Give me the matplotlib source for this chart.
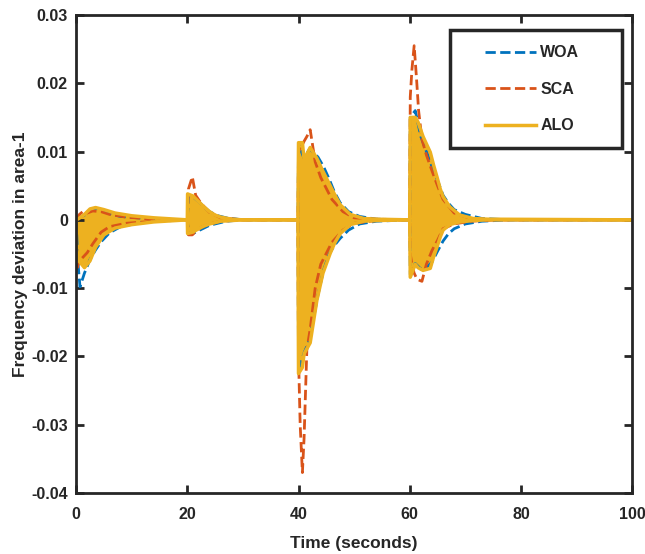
import matplotlib
matplotlib.use("Agg")
import matplotlib.pyplot as plt
from matplotlib.legend_handler import HandlerLine2D

plt.rcParams['font.family'] = ['Liberation Sans', 'DejaVu Sans']
plt.rcParams['font.weight'] = 'bold'

# envelope of each response (upper / lower edge)
woa_t = [0, 0.3, 0.7, 1.5, 2.5, 3.5, 4.5, 6, 8, 11, 15, 20,
         20.2, 21, 22, 23, 24, 25.5, 27, 30,
         39.9, 40.0, 41, 42, 43.5, 44.5, 45.5, 46.5, 47.5, 49, 51, 54, 60,
         60.1, 61, 62, 63, 64, 65, 66, 67, 68, 70, 73, 78, 100]
woa_hi = [0, 0.0002, 0.0004, 0.0007, 0.0014, 0.0017, 0.0014, 0.0009, 0.0005, 0.0003, 0.0001, 0,
          0.0036, 0.0034, 0.0027, 0.0019, 0.0012, 0.0006, 0.0003, 0,
          0, 0.0110, 0.0090, 0.0104, 0.0092, 0.0078, 0.0060, 0.0040, 0.0025, 0.0012, 0.0005, 0.0001, 0,
          0.0150, 0.0160, 0.0122, 0.0100, 0.0078, 0.0058, 0.0036, 0.0024, 0.0015, 0.0008, 0.0002, 0, 0]
woa_lo = [0, -0.0060, -0.0098, -0.0078, -0.0058, -0.0044, -0.0032, -0.0019, -0.0010, -0.0005, -0.0002, 0,
          -0.0021, -0.0020, -0.0016, -0.0012, -0.0008, -0.0005, -0.0002, 0,
          0, -0.0220, -0.0195, -0.0175, -0.0110, -0.0074, -0.0050, -0.0037, -0.0027, -0.0015, -0.0006, -0.0002, 0,
          -0.0080, -0.0064, -0.0072, -0.0070, -0.0062, -0.0046, -0.0031, -0.0020, -0.0013, -0.0006, -0.0002, 0, 0]

sca_t = [0, 0.2, 0.6, 1.2, 2, 3, 4.5, 6, 9, 14, 20,
         20.2, 20.9, 21.5, 22.5, 24, 26, 30,
         39.9, 40.0, 40.3, 40.7, 41.0, 41.5, 42.1, 43, 44, 46, 48, 50, 54, 60,
         60.1, 60.4, 60.8, 61.2, 61.6, 62.2, 63, 64, 65, 66, 68, 71, 76, 100]
sca_hi = [0, 0.0002, 0.0008, 0.0012, 0.0010, 0.0013, 0.0012, 0.0008, 0.0004, 0.0001, 0,
          0.0045, 0.0063, 0.0036, 0.0024, 0.0011, 0.0003, 0,
          0, 0.0100, 0.0105, 0.0110, 0.0115, 0.0122, 0.0132, 0.0085, 0.0062, 0.0030, 0.0012, 0.0003, 0.0001, 0,
          0.0180, 0.0220, 0.0255, 0.0210, 0.0160, 0.0118, 0.0095, 0.0072, 0.0050, 0.0030, 0.0010, 0.0002, 0, 0]
sca_lo = [0, -0.0070, -0.0060, -0.0055, -0.0048, -0.0035, -0.0018, -0.0010, -0.0005, -0.0002, 0,
          -0.0022, -0.0022, -0.0017, -0.0011, -0.0006, -0.0002, 0,
          0, -0.0200, -0.0300, -0.0370, -0.0320, -0.0190, -0.0160, -0.0100, -0.0065, -0.0033, -0.0015, -0.0005, -0.0001, 0,
          -0.0050, -0.0065, -0.0078, -0.0085, -0.0088, -0.0090, -0.0065, -0.0045, -0.0030, -0.0013, -0.0006, -0.0002, 0, 0]

alo_t = [0, 0.05, 0.5, 1.5, 2.5, 3.5, 5, 7, 10, 14, 18, 20,
         20.05, 21, 22, 23, 24, 25, 26, 28, 30,
         39.9, 40.0, 40.7, 41.0, 42.1, 43.3, 44.4, 45.7, 46.5, 47.5, 49.3, 51.7, 54, 60,
         60.1, 61.0, 61.5, 62.4, 63.7, 64.3, 64.9, 65.5, 66, 67.2, 69, 71.4, 74, 100]
alo_hi = [0, 0.0000, 0.0002, 0.0008, 0.0016, 0.0018, 0.0015, 0.0010, 0.0006, 0.0003, 0.0001, 0,
          0.0038, 0.0035, 0.0027, 0.0019, 0.0012, 0.0007, 0.0004, 0.0001, 0,
          0, 0.0113, 0.0113, 0.0088, 0.0106, 0.0090, 0.0071, 0.0050, 0.0037, 0.0022, 0.0008, 0.0002, 0.0001, 0,
          0.0150, 0.0150, 0.0143, 0.0122, 0.0099, 0.0080, 0.0063, 0.0045, 0.0034, 0.0019, 0.0007, 0.0002, 0.0001, 0]
alo_lo = [0, -0.0040, -0.0060, -0.0070, -0.0060, -0.0040, -0.0022, -0.0012, -0.0007, -0.0003, -0.0001, 0,
          -0.0020, -0.0018, -0.0013, -0.0009, -0.0006, -0.0004, -0.0002, -0.0001, 0,
          0, -0.0225, -0.0216, -0.0196, -0.0180, -0.0118, -0.0078, -0.0049, -0.0034, -0.0020, -0.0007, -0.0002, -0.0001, 0,
          -0.0084, -0.0065, -0.0070, -0.0074, -0.0071, -0.0054, -0.0040, -0.0025, -0.0015, -0.0007, -0.0003, -0.0001, 0, 0]

yticks = [0.03, 0.02, 0.01, 0, -0.01, -0.02, -0.03, -0.04]
ytick_labels = ['0.03', '0.02', '0.01', '0', '-0.01', '-0.02', '-0.03', '-0.04']


class ShiftedLine(HandlerLine2D):
    # legend sample line drawn in the right part of the handle box (MATLAB look)
    def get_xdata(self, legend, xdescent, ydescent, width, height, fontsize):
        return [-xdescent + 0.28 * width, -xdescent + width], [-xdescent + 0.28 * width, -xdescent + width]


fig = plt.figure(figsize=(6.45, 5.54), dpi=100)
ax = fig.add_axes([0.118, 0.110, 0.862, 0.863])

ax.plot(woa_t, woa_hi, '--', color='#0072BD', lw=2, label='WOA')
ax.plot(woa_t, woa_lo, '--', color='#0072BD', lw=2)
ax.plot(sca_t, sca_hi, '--', color='#D95319', lw=2, label='SCA')
ax.plot(sca_t, sca_lo, '--', color='#D95319', lw=2)
ax.fill_between(alo_t, alo_lo, alo_hi, color='#EDB120', lw=0)
ax.plot(alo_t, alo_hi, '-', color='#EDB120', lw=2.5, label='ALO')
ax.plot(alo_t, alo_lo, '-', color='#EDB120', lw=2.5)

ax.set_xlim(0, 100)
ax.set_ylim(-0.04, 0.03)
ax.set_xticks([0, 20, 40, 60, 80, 100])
ax.set_yticks(yticks)
ax.set_yticklabels(ytick_labels)
ax.tick_params(direction='in', length=6, width=2, top=True, right=True,
               labelsize=11.5, colors='#262626')
ax.tick_params(axis='x', pad=10)
ax.tick_params(axis='y', pad=6)
for s in ax.spines.values():
    s.set_linewidth(2)
    s.set_color('#262626')

ax.set_xlabel('Time (seconds)', fontsize=12.5, fontweight='bold', color='#262626', labelpad=10)
ax.set_ylabel('Frequency deviation in area-1', fontsize=12.5, fontweight='bold', color='#262626', labelpad=2)

leg = ax.legend(loc='upper left', bbox_to_anchor=(0.6727, 0.5, 0.309, 0.4686), mode='expand',
                fontsize=11.5, handlelength=4.4, labelspacing=1.35, borderpad=0.95, handletextpad=0.3,
                borderaxespad=0, fancybox=False, framealpha=1,
                handler_map={matplotlib.lines.Line2D: ShiftedLine()})
leg.get_frame().set_edgecolor('#262626')
leg.get_frame().set_linewidth(2.5)
for t in leg.get_texts():
    t.set_fontweight('bold')
    t.set_color('#262626')

fig.savefig('out.png', dpi=100)
